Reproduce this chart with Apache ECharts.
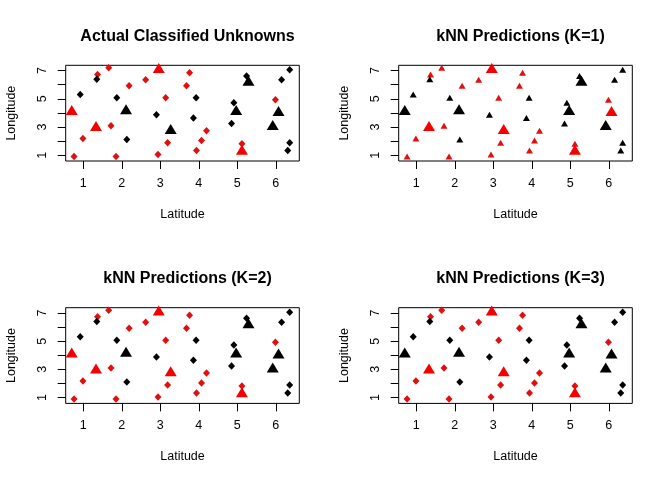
<!DOCTYPE html>
<html>
<head>
<meta charset="utf-8">
<script src="https://cdn.jsdelivr.net/npm/echarts@6/dist/echarts.min.js"></script>
<style>
html,body{margin:0;padding:0;background:#fff;}
#chart{width:666px;height:485px;}
</style>
</head>
<body>
<div id="chart"></div>
<script>
// ---- data ----
const trainX = [0.76, 0.99, 1.37, 1.66, 1.72, 1.85, 2.19, 2.62, 2.94, 3.14, 3.19, 3.68, 3.76, 3.94, 4.07, 4.20, 5.12, 5.99,
                0.92, 1.35, 1.87, 2.13, 2.90, 3.86, 3.93, 4.85, 4.91, 5.24, 6.15, 6.36, 6.36, 6.31];
const trainY = [0.91, 2.18, 6.72, 7.19, 3.09, 0.91, 5.92, 6.34, 1.05, 5.07, 1.89, 5.92, 6.84, 1.33, 2.04, 2.74, 1.82, 4.93,
                5.31, 6.39, 5.07, 2.11, 3.87, 3.64, 5.07, 3.24, 4.72, 6.62, 6.34, 7.05, 1.89, 1.33];
const trainClass = ['R','R','R','R','R','R','R','R','R','R','R','R','R','R','R','R','R','R',
                    'B','B','B','B','B','B','B','B','B','B','B','B','B','B'];
const unknownX = [0.70, 1.33, 2.96, 5.12, 2.11, 3.27, 4.97, 5.29, 5.92, 6.07];
const unknownY = [4.20, 3.07, 7.17, 1.38, 4.25, 2.86, 4.20, 6.27, 3.14, 4.13];
const actualClass = ['R','R','R','R','B','B','B','B','B','B'];
const predK1 = ['B','R','R','R','B','R','B','B','B','R'];
const predK2 = ['R','R','R','R','B','R','B','B','B','B'];
const predK3 = ['B','R','R','R','B','R','B','B','B','B'];
const panelTitles = ['Actual Classified Unknowns', 'kNN Predictions (K=1)', 'kNN Predictions (K=2)', 'kNN Predictions (K=3)'];
const xTicks = [1, 2, 3, 4, 5, 6];
const yTicks = [1, 2, 3, 4, 5, 6, 7];
const yTickLabels = [1, 3, 5, 7];

// ---- build chart ----
const FONT = "'Liberation Sans', Arial, sans-serif";
const RED_BIG = '#f50000';
const RED_SMALL = '#e01010';
const panels = [
  {left: 65.7, top: 65.3, cls: actualClass, trainSym: 'diamond'},
  {left: 398.7, top: 65.3, cls: predK1, trainSym: 'triangle'},
  {left: 65.7, top: 307.7, cls: predK2, trainSym: 'diamond'},
  {left: 398.7, top: 307.7, cls: predK3, trainSym: 'diamond'}
];
const W = 233.6, H = 95.7;

function pts(xs, ys, cl, want) {
  const out = [];
  for (let i = 0; i < xs.length; i++) if (cl[i] === want) out.push([xs[i], ys[i]]);
  return out;
}

const grid = [], xAxis = [], yAxis = [], series = [], title = [];
panels.forEach((p, i) => {
  grid.push({left: p.left, top: p.top, width: W, height: H, show: true,
             borderColor: '#000', borderWidth: 1, backgroundColor: 'transparent'});
  title.push({text: panelTitles[i], left: p.left + W / 2, top: p.top - 42, textAlign: 'center',
              textStyle: {fontFamily: FONT, fontSize: 16, fontWeight: 'bold', color: '#000'}});
  xAxis.push({type: 'value', gridIndex: i, min: 0.543, max: 6.61,
    name: 'Latitude', nameLocation: 'middle', nameGap: 47,
    nameTextStyle: {fontFamily: FONT, fontSize: 12.5, color: '#000'},
    axisLine: {show: false}, splitLine: {show: false},
    axisTick: {show: true, length: 8, lineStyle: {color: '#000'}, customValues: xTicks},
    axisLabel: {fontFamily: FONT, fontSize: 12.5, color: '#000', margin: 16, customValues: xTicks}
  });
  yAxis.push({type: 'value', gridIndex: i, min: 0.59, max: 7.37,
    name: 'Longitude', nameLocation: 'middle', nameGap: 48, nameRotate: 90,
    nameTextStyle: {fontFamily: FONT, fontSize: 12.5, color: '#000'},
    axisLine: {show: false}, splitLine: {show: false},
    axisTick: {show: true, length: 8, lineStyle: {color: '#000'}, customValues: yTicks},
    axisLabel: {fontFamily: FONT, fontSize: 12.5, color: '#000', margin: 17, rotate: 90, customValues: yTickLabels}
  });
  const smallSize = p.trainSym === 'diamond' ? [7, 7.5] : [7, 6];
  const common = {type: 'scatter', xAxisIndex: i, yAxisIndex: i, clip: true, silent: true};
  series.push(Object.assign({}, common, {symbol: p.trainSym, symbolSize: smallSize,
    itemStyle: {color: RED_SMALL, opacity: 1}, data: pts(trainX, trainY, trainClass, 'R')}));
  series.push(Object.assign({}, common, {symbol: p.trainSym, symbolSize: smallSize,
    itemStyle: {color: '#000', opacity: 1}, data: pts(trainX, trainY, trainClass, 'B')}));
  series.push(Object.assign({}, common, {symbol: 'triangle', symbolSize: [12, 10],
    itemStyle: {color: RED_BIG, opacity: 1}, data: pts(unknownX, unknownY, p.cls, 'R')}));
  series.push(Object.assign({}, common, {symbol: 'triangle', symbolSize: [12, 10],
    itemStyle: {color: '#000', opacity: 1}, data: pts(unknownX, unknownY, p.cls, 'B')}));
});

const chart = echarts.init(document.getElementById('chart'), null, {renderer: 'canvas'});
chart.setOption({animation: false, backgroundColor: '#fff', title, grid, xAxis, yAxis, series});
</script>
</body>
</html>
